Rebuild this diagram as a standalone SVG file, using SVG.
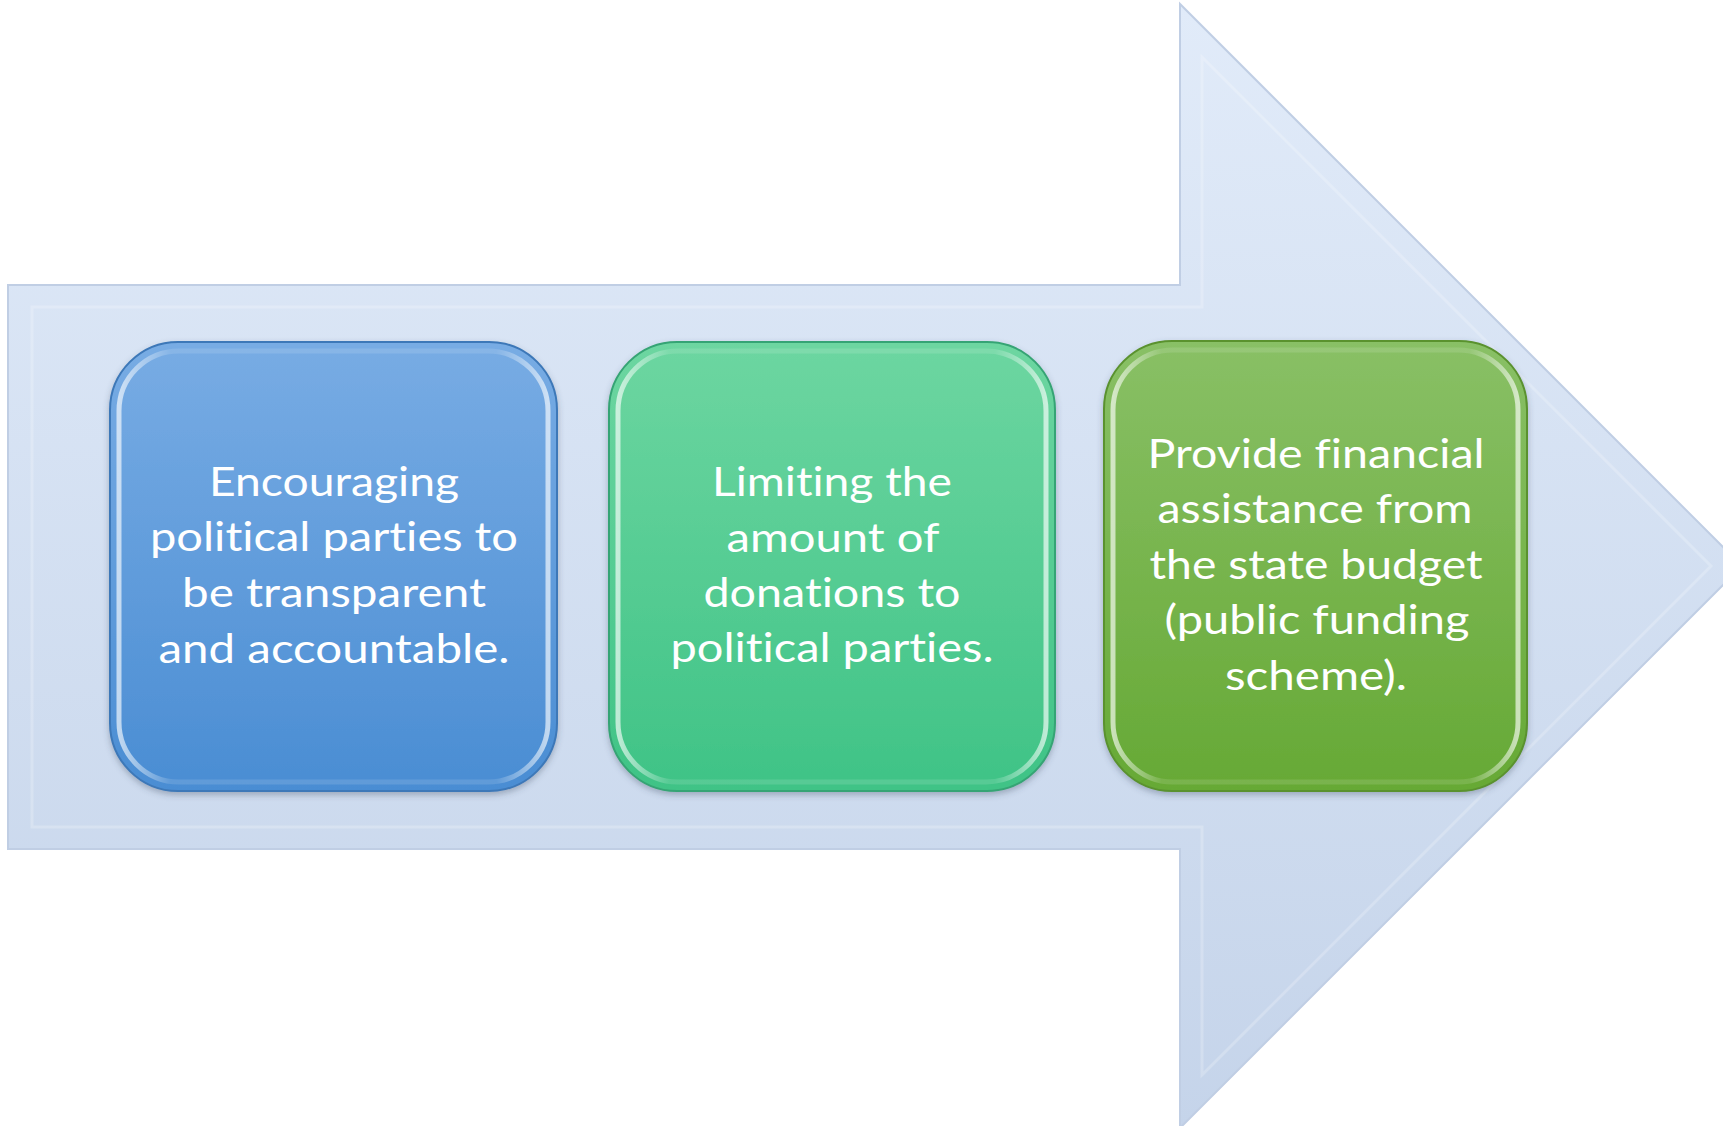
<svg xmlns="http://www.w3.org/2000/svg" width="1723" height="1126" viewBox="0 0 1723 1126">
<defs>
<linearGradient id="gArrow" x1="0" y1="0" x2="0" y2="1">
<stop offset="0" stop-color="#e1ebf9"/>
<stop offset="1" stop-color="#c5d4ea"/>
</linearGradient>
<linearGradient id="gBlue" x1="0" y1="0" x2="0" y2="1">
<stop offset="0" stop-color="#78ace4"/>
<stop offset="1" stop-color="#4a8dd3"/>
</linearGradient>
<linearGradient id="gGreen" x1="0" y1="0" x2="0" y2="1">
<stop offset="0" stop-color="#6dd6a1"/>
<stop offset="1" stop-color="#3fc386"/>
</linearGradient>
<linearGradient id="gLime" x1="0" y1="0" x2="0" y2="1">
<stop offset="0" stop-color="#89c066"/>
<stop offset="1" stop-color="#66a935"/>
</linearGradient>
<linearGradient id="gEdge" x1="0" y1="0" x2="1" y2="0">
<stop offset="0" stop-color="#ffffff" stop-opacity="0.65"/>
<stop offset="0.12" stop-color="#ffffff" stop-opacity="0.12"/>
<stop offset="0.88" stop-color="#ffffff" stop-opacity="0.12"/>
<stop offset="1" stop-color="#ffffff" stop-opacity="0.65"/>
</linearGradient>
<filter id="sh" x="-10%" y="-10%" width="120%" height="120%">
<feDropShadow dx="0" dy="3" stdDeviation="3" flood-color="#3a4a60" flood-opacity="0.35"/>
</filter>
</defs>
<style>
.lbl{font-family:Lato,"Open Sans","Liberation Sans",sans-serif;font-size:41px;fill:#ffffff;text-anchor:middle;font-variant-ligatures:none;font-feature-settings:"liga" 0,"clig" 0}
.edge{fill:none;stroke:url(#gEdge);stroke-width:5}
</style>
<rect width="1723" height="1126" fill="#ffffff"/>
<g id="arrow">
<path d="M8,285 L1180,285 L1180,4 L1742,566 L1180,1128 L1180,849 L8,849 Z" fill="url(#gArrow)" stroke="#c0cee4" stroke-width="2"/>
<path d="M32,307 L1202,307 L1202,57 L1711,566 L1202,1075 L1202,827 L32,827 Z" fill="none" stroke="#ffffff" stroke-opacity="0.22" stroke-width="3"/>
</g>
<g id="connectors"></g>
<g id="node1">
<rect x="110" y="342" width="447" height="449" rx="68" fill="url(#gBlue)" stroke="#3d78b8" stroke-width="2" filter="url(#sh)"/>
<rect x="119" y="351" width="429" height="431" rx="60" class="edge"/>
<text class="lbl" x="334" y="496" textLength="250" lengthAdjust="spacingAndGlyphs">Encouraging</text>
<text class="lbl" x="334" y="551" textLength="368" lengthAdjust="spacingAndGlyphs">political parties to</text>
<text class="lbl" x="334" y="607" textLength="304" lengthAdjust="spacingAndGlyphs">be transparent</text>
<text class="lbl" x="334" y="663" textLength="351" lengthAdjust="spacingAndGlyphs">and accountable.</text>
</g>
<g id="node2">
<rect x="609" y="342" width="446" height="449" rx="68" fill="url(#gGreen)" stroke="#36a474" stroke-width="2" filter="url(#sh)"/>
<rect x="618" y="351" width="428" height="431" rx="60" class="edge"/>
<text class="lbl" x="832" y="496" textLength="240" lengthAdjust="spacingAndGlyphs">Limiting the</text>
<text class="lbl" x="833" y="552" textLength="213" lengthAdjust="spacingAndGlyphs">amount of</text>
<text class="lbl" x="832" y="607" textLength="257" lengthAdjust="spacingAndGlyphs">donations to</text>
<text class="lbl" x="832" y="662" textLength="323" lengthAdjust="spacingAndGlyphs">political parties.</text>
</g>
<g id="node3">
<rect x="1104" y="341" width="423" height="450" rx="68" fill="url(#gLime)" stroke="#5a922f" stroke-width="2" filter="url(#sh)"/>
<rect x="1113" y="350" width="405" height="432" rx="60" class="edge"/>
<text class="lbl" x="1316" y="468" textLength="337" lengthAdjust="spacingAndGlyphs">Provide financial</text>
<text class="lbl" x="1315" y="523" textLength="315" lengthAdjust="spacingAndGlyphs">assistance from</text>
<text class="lbl" x="1316" y="579" textLength="333" lengthAdjust="spacingAndGlyphs">the state budget</text>
<text class="lbl" x="1317" y="634" textLength="305" lengthAdjust="spacingAndGlyphs">(public funding</text>
<text class="lbl" x="1316" y="690" textLength="182" lengthAdjust="spacingAndGlyphs">scheme).</text>
</g>
</svg>
